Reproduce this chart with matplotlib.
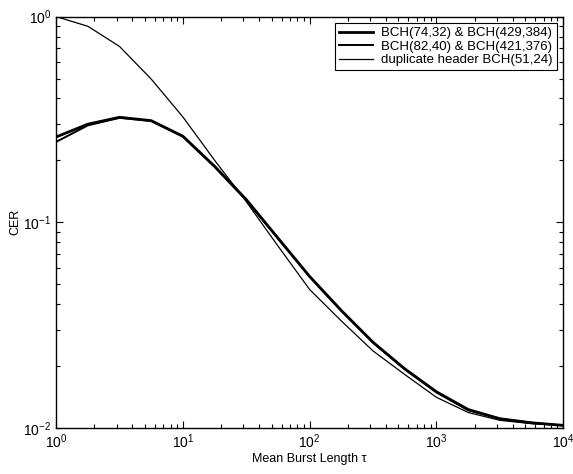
import numpy as np
import matplotlib
matplotlib.use("Agg")
import matplotlib.pyplot as plt
from matplotlib.ticker import LogLocator, NullFormatter

plt.rcParams['font.family'] = ['Liberation Sans', 'DejaVu Sans']

# mean burst length samples (quarter decades)
tau = [1, 1.78, 3.16, 5.62, 10, 17.8, 31.6, 56.2, 100, 178, 316, 562, 1000, 1780, 3160, 5620, 10000]

cer_74 = [0.26, 0.300, 0.324, 0.312, 0.262, 0.187, 0.129, 0.0838, 0.0545, 0.0372, 0.0261,
          0.0194, 0.0150, 0.0123, 0.0111, 0.0106, 0.0103]
cer_82 = [0.246, 0.296, 0.322, 0.311, 0.261, 0.186, 0.128, 0.0836, 0.0544, 0.0371, 0.0260,
          0.0193, 0.0149, 0.0122, 0.0111, 0.0106, 0.0103]
cer_dup = [1.0, 0.897, 0.716, 0.497, 0.325, 0.200, 0.126, 0.0767, 0.0471, 0.0331, 0.0237,
           0.0182, 0.0141, 0.0119, 0.0109, 0.0105, 0.0103]

labels = ["BCH(74,32) & BCH(429,384)", "BCH(82,40) & BCH(421,376)",
          "duplicate header BCH(51,24)"]

fig = plt.figure(figsize=(5.73, 4.74), dpi=100)
ax = fig.add_axes([0.098, 0.097, 0.885, 0.868])

ax.loglog(tau, cer_74, color="black", lw=2.0, label=labels[0])
ax.loglog(tau, cer_82, color="black", lw=1.4, label=labels[1])
ax.loglog(tau, cer_dup, color="black", lw=0.9, label=labels[2])

ax.set_xlim(1, 1e4)
ax.set_ylim(1e-2, 1)
ax.xaxis.set_major_locator(LogLocator(base=10, numticks=10))
ax.yaxis.set_major_locator(LogLocator(base=10, numticks=10))
ax.xaxis.set_minor_locator(LogLocator(base=10, subs=np.arange(2, 10), numticks=20))
ax.yaxis.set_minor_locator(LogLocator(base=10, subs=np.arange(2, 10), numticks=20))
ax.xaxis.set_minor_formatter(NullFormatter())
ax.yaxis.set_minor_formatter(NullFormatter())
ax.tick_params(which="both", direction="in", top=True, right=True, labelsize=10, width=0.8)
ax.tick_params(which="major", length=5)
ax.tick_params(which="minor", length=3)
for s in ax.spines.values():
    s.set_linewidth(1.0)

ax.set_xlabel("Mean Burst Length τ", fontsize=9, labelpad=1)
ax.set_ylabel("CER", fontsize=9, labelpad=1)

leg = ax.legend(loc="upper right", fontsize=9.5, fancybox=False, edgecolor="black",
                framealpha=1, borderaxespad=0.5, handlelength=2.6, labelspacing=0.1,
                borderpad=0.3, handletextpad=0.6)
leg.get_frame().set_linewidth(0.8)

fig.savefig("out.png", dpi=100)
